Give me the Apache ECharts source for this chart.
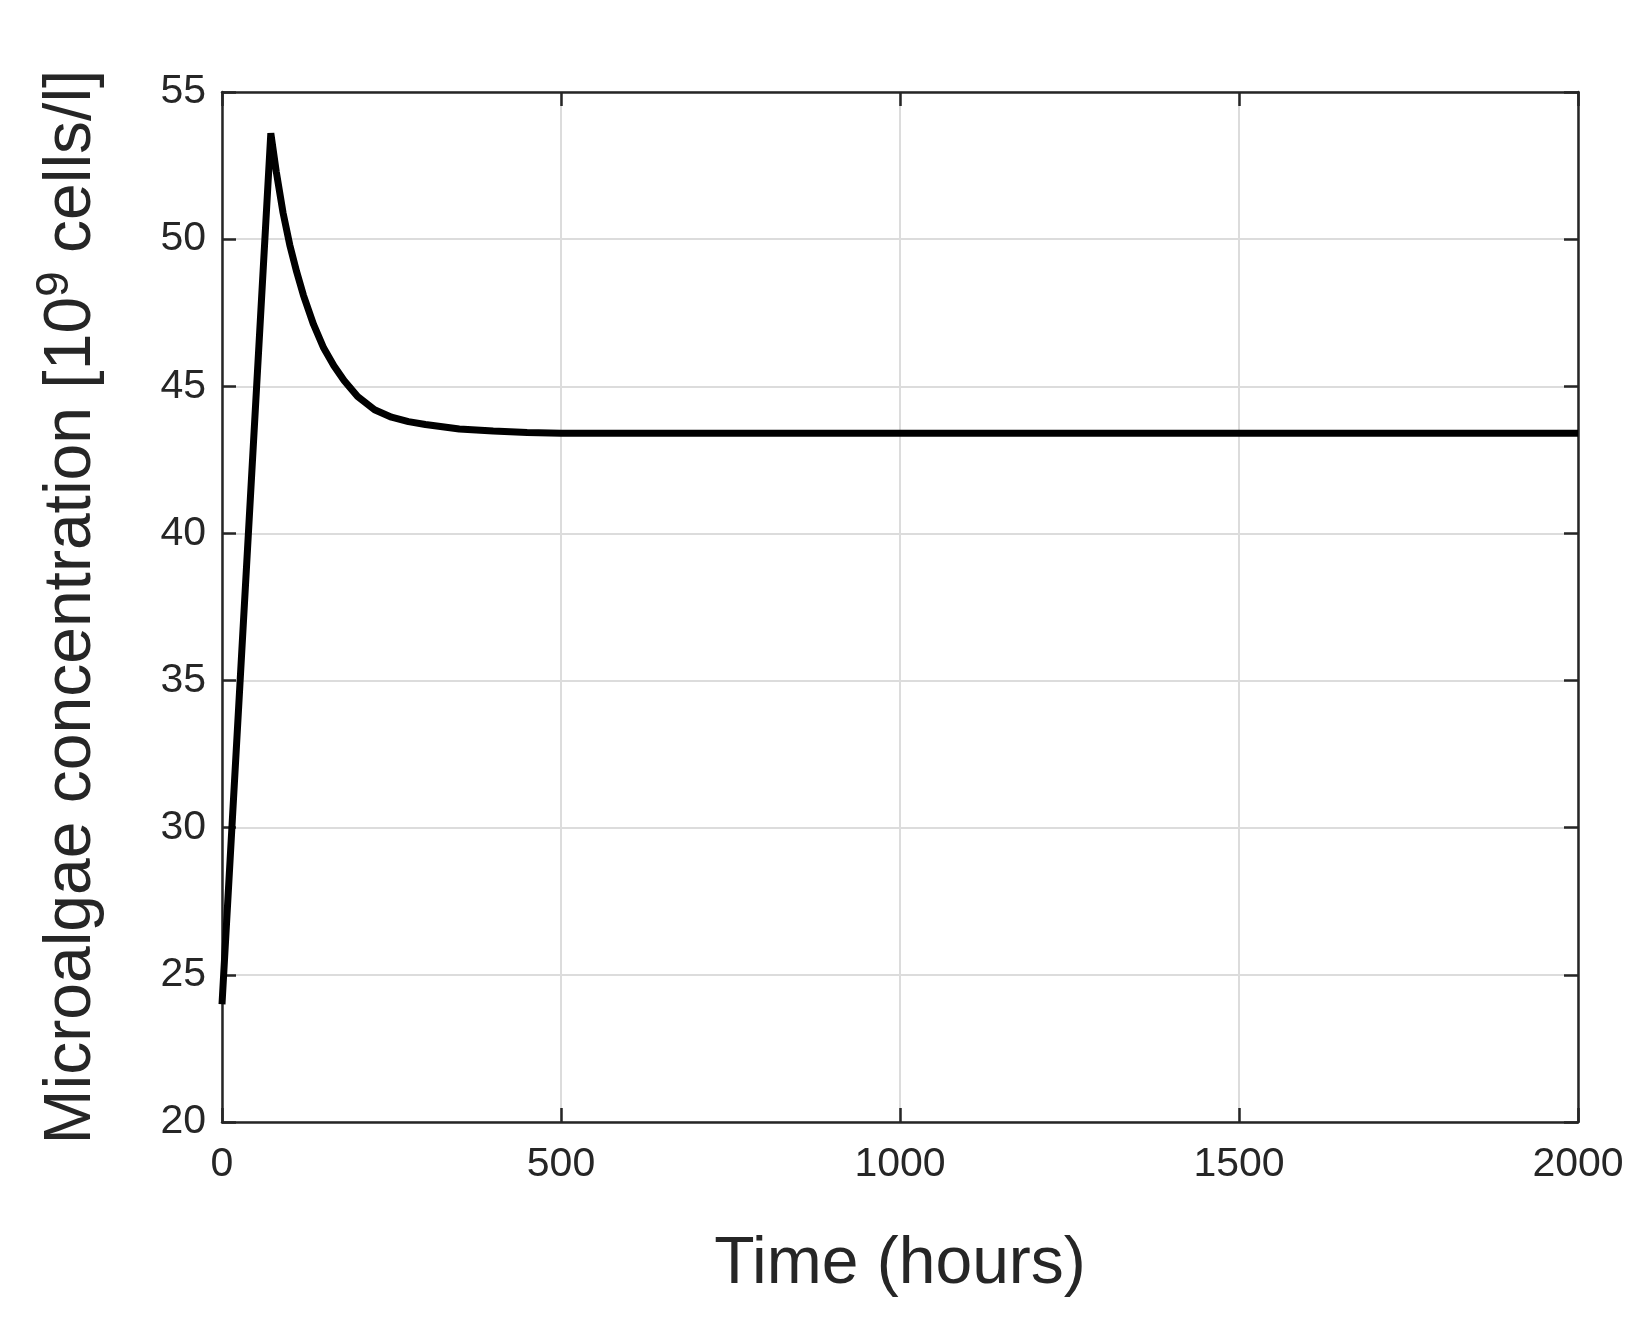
<!DOCTYPE html>
<html>
<head>
<meta charset="utf-8">
<script src="https://cdn.jsdelivr.net/npm/echarts@6/dist/echarts.min.js"></script>
<style>html,body{margin:0;background:#fff}#c{width:1644px;height:1328px}</style>
</head>
<body>
<div id="c"></div>
<script>
// time in hours, concentration in 10^9 cells/l
const times = [0, 72, 80, 90, 100, 110, 120, 135, 150, 165, 180, 200, 225, 250, 275, 300, 350, 400, 450, 500, 1000, 1500, 2000];
const conc = [24, 53.6, 52.3, 50.9, 49.8, 48.9, 48.1, 47.1, 46.3, 45.7, 45.2, 44.65, 44.2, 43.95, 43.8, 43.7, 43.55, 43.48, 43.43, 43.4, 43.4, 43.4, 43.4];
const xTicks = [0, 500, 1000, 1500, 2000];
const yTicks = [20, 25, 30, 35, 40, 45, 50, 55];

const chart = echarts.init(document.getElementById("c"));
const font = "Liberation Sans, Arial, sans-serif";
const ink = "#262626";
const axisCommon = {
	axisLine: { show: true, onZero: false, lineStyle: { color: ink, width: 2.5 } },
	axisTick: { show: true, inside: true, length: 14, lineStyle: { color: ink, width: 2.5 } },
	splitLine: { show: true, lineStyle: { color: "#dcdcdc", width: 2 } },
	axisLabel: { color: ink, fontSize: 41, fontFamily: font, formatter: v => String(v) }
};
const mirror = { splitLine: { show: false }, axisLabel: { show: false } };
const xBase = { type: "value", min: 0, max: 2000, interval: 500 };
const yBase = { type: "value", min: 20, max: 55, interval: 5 };
chart.setOption({
	animation: false,
	grid: { left: 222, top: 92, right: 66, bottom: 206 },
	xAxis: [Object.assign({}, axisCommon, xBase, {
		axisLabel: Object.assign({}, axisCommon.axisLabel, { margin: 22 }),
		name: "Time (hours)", nameLocation: "middle", nameGap: 110,
		nameTextStyle: { color: ink, fontSize: 66, fontFamily: font }
	}), Object.assign({}, axisCommon, xBase, mirror, { position: "top" })],
	yAxis: [Object.assign({}, axisCommon, yBase, {
		axisLabel: Object.assign({}, axisCommon.axisLabel, { margin: 16 }),
		name: "Microalgae concentration [10{s|9} cells/l]", nameLocation: "middle", nameGap: 110,
		nameTextStyle: { color: ink, fontSize: 66, fontFamily: font,
			rich: { s: { fontSize: 46, fontFamily: font, color: ink, verticalAlign: "top", padding: [0, 0, 34, 0] } } }
	}), Object.assign({}, axisCommon, yBase, mirror, { position: "right" })],
	series: [{
		type: "line",
		data: times.map((t, i) => [t, conc[i]]),
		showSymbol: false,
		lineStyle: { color: "#000", width: 7 }
	}]
});
</script>
</body>
</html>
